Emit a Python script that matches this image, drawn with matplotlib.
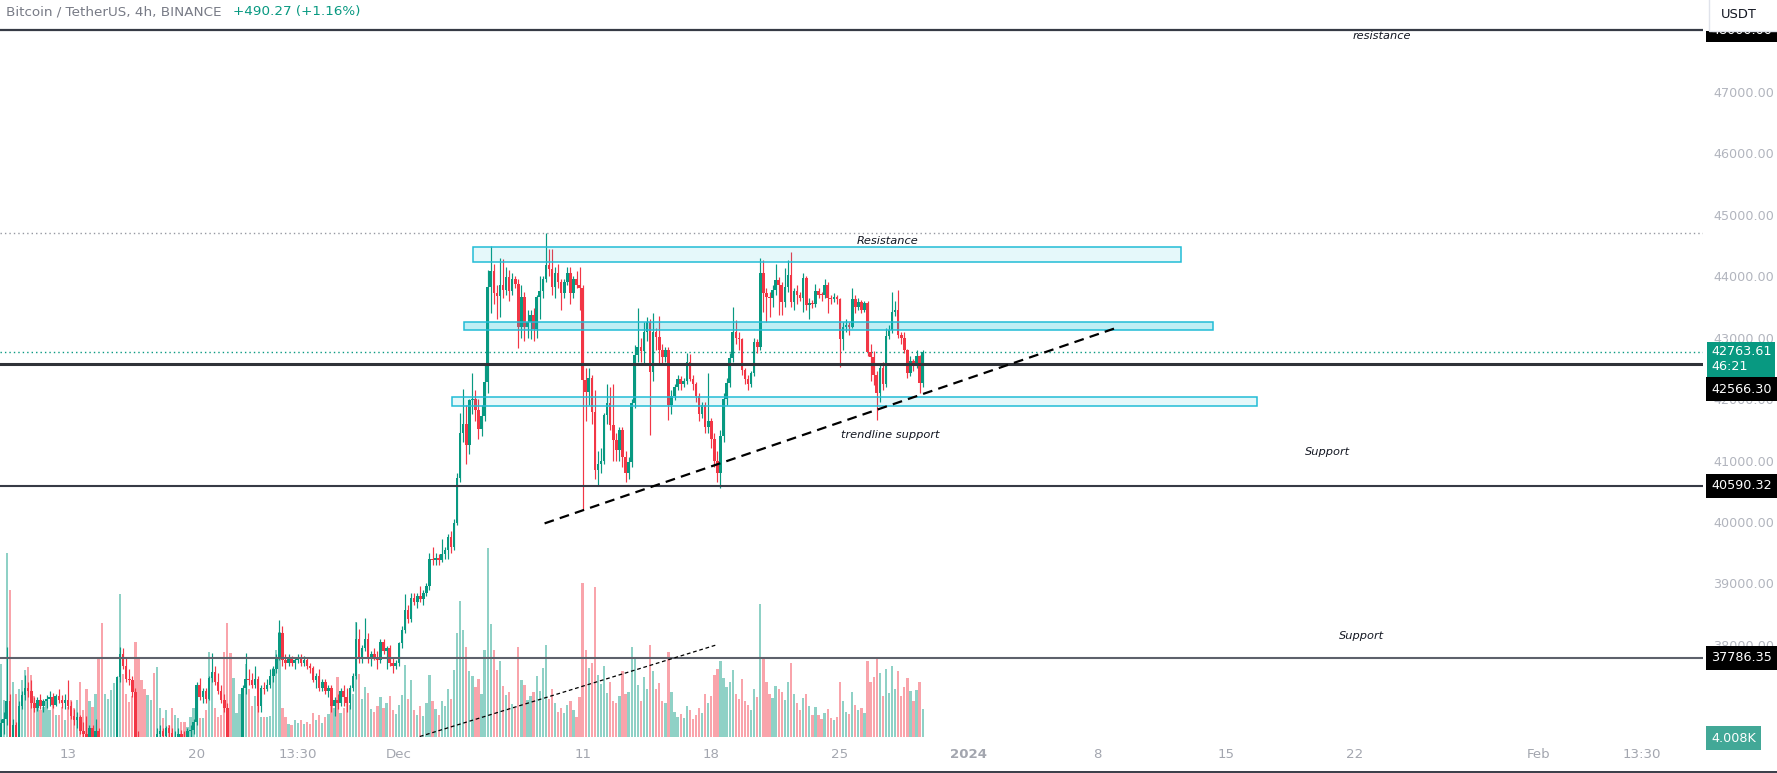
import numpy as np
import matplotlib
matplotlib.use("Agg")
import matplotlib.pyplot as plt
from matplotlib.patches import Rectangle
from matplotlib.transforms import Bbox, TransformedBbox

W, H = 1777, 773
GREEN = '#089981'
RED = '#f23645'

# BTC/USDT 4h candles, 9 Nov 2023 08:00 -> 29 Dec 2023 12:00 (one row per day)
first_open = 36300
closes = [
    36720, 36800, 37080, 36450,
    36700, 36480, 37000, 37180, 37300, 37250,
    37050, 36980, 37100, 37000, 37080, 37120,
    37150, 37020, 37160, 37100, 37050, 37100,
    37000, 36850, 36780, 36820, 36600, 36550,
    36500, 36650, 36450, 36600, 35600, 35550,
    35800, 36000, 36200, 36300, 37480, 37850,
    37650, 37450, 37420, 37230, 36400, 36200,
    36100, 35700, 36000, 36300, 36200, 36550,
    36600, 36520, 36640, 36560, 36450, 36500,
    36550, 36500, 36480, 36600, 36620, 36750,
    37340, 37150, 37250, 37120, 37460, 37560,
    37400, 37250, 37100, 36980, 36400, 35800,
    36100, 36300, 36400, 37300, 37450, 37420,
    37350, 37450, 37000, 37300, 37280, 37350,
    37500, 37600, 37800, 38200, 37750, 37700,
    37780, 37700, 37760, 37800, 37700, 37760,
    37650, 37620, 37430, 37500, 37300, 37400,
    37250, 37300, 37000, 37100, 37050, 37250,
    37150, 37050, 37300, 37500, 38100, 37800,
    37950, 38100, 37780, 37850, 37800, 37750,
    38050, 37900, 37950, 37700, 37650, 37700,
    38030, 38240, 38570, 38420, 38770, 38700,
    38800, 38750, 38850, 38950, 39400, 39380,
    39420, 39380, 39480, 39550, 39750, 39600,
    39980, 40720, 41440, 41590, 41250, 41980,
    42000, 41830, 41510, 41720, 42280, 43820,
    44080, 43730, 43680, 43850, 43780, 43990,
    43760, 43950, 43880, 43180, 43660, 43180,
    43260, 43370, 43140, 43660, 43760, 43960,
    44180, 44120, 43820, 44050, 43900, 43730,
    43900, 44050, 43730, 43950, 43850, 43800,
    42310, 42120, 42340, 41790, 40850, 40950,
    41000, 41740, 41930, 41580, 41330, 41170,
    41500, 41050, 40800, 40980, 41930, 42720,
    42850, 42780, 43090, 43260, 42440, 43090,
    43010, 42800, 42680, 42800, 41900, 42050,
    42200, 42330, 42250, 42300, 42600, 42330,
    42250, 42050, 41750, 41900, 41550, 41650,
    41350, 41000, 40800, 41400, 42000, 42270,
    42670, 43100, 43000, 42970, 42470, 42320,
    42250, 42420, 42930, 42850, 44050, 43730,
    43660, 43650, 43780, 43940, 43860, 43580,
    43830, 44020, 43580, 43760, 43700, 43650,
    43970, 43530, 43570, 43540, 43760, 43700,
    43690, 43860, 43650, 43630, 43660, 43630,
    42980, 43170, 43210, 43170, 43630, 43500,
    43580, 43450, 43570, 42770, 42680, 42390,
    42100, 42510, 42240, 43030, 43120, 43420,
    43450, 43050, 43000, 42800, 42430, 42620,
    42560, 42700, 42260, 42763.61,
]
highs = [
    36800, 36900, 37970, 37200,
    36800, 36750, 37080, 37250, 37510, 37400,
    37420, 37150, 37150, 37200, 37120, 37180,
    37250, 37220, 37200, 37280, 37180, 37200,
    37430, 37080, 36950, 36900, 36860, 36750,
    36850, 36700, 36700, 36800, 36650, 35800,
    35900, 36100, 36300, 36400, 37500, 37970,
    37950, 37800, 37600, 37500, 37300, 36600,
    36400, 36300, 36100, 36400, 36500, 36650,
    36700, 36650, 36680, 36700, 36650, 36600,
    36650, 36620, 36600, 36650, 36700, 36800,
    37400, 37460, 37300, 37300, 37500, 37870,
    37650, 37550, 37350, 37200, 37050, 36500,
    36200, 36400, 36450, 37350, 37870, 37600,
    37550, 37650, 37500, 37350, 37400, 37450,
    37600, 37650, 37850, 38400, 38300, 37850,
    37850, 37820, 37800, 37850, 37850, 37820,
    37800, 37700, 37650, 37550, 37600, 37450,
    37450, 37350, 37350, 37150, 37200, 37300,
    37350, 37300, 37350, 37550, 38370, 38250,
    38000, 38440, 38200, 37900, 37950, 37900,
    38100, 38100, 37980, 38000, 37800, 37750,
    38050, 38300, 38830, 38650, 38850, 38850,
    38850, 38950, 38900, 39000, 39500, 39600,
    39500, 39480, 39720, 39600, 39800, 39850,
    40050, 40800, 41770, 42170, 41900, 42000,
    42420, 42150, 42000, 41900, 42550, 44100,
    44490, 44200, 43850, 44290, 44280, 44150,
    44100, 44050, 44000, 43950, 43850, 43750,
    43450, 43450, 43480, 43700, 44000, 44000,
    44700, 44450, 44450, 44150, 44200, 43950,
    43950, 44150, 44150, 44000, 44080, 44150,
    43850, 42500, 42500, 42400, 42150, 41150,
    41200, 41780, 42240, 42200, 42240, 41450,
    41550, 41550, 41150, 41050, 42000, 42880,
    43480, 43000, 43250, 43340, 43300, 43400,
    43150, 43360, 42900, 42850, 42850, 42150,
    42250, 42400, 42380, 42350, 42750, 42730,
    42400, 42280, 42100, 41950, 41950, 42420,
    41700, 41450, 41150, 41500, 42100, 42350,
    42750, 43500, 43290, 43100, 43000, 42500,
    42400, 42450, 43000, 42980, 44300, 44260,
    43800, 43750, 43850, 44200, 43980, 43900,
    44130, 44260, 44390, 43800, 43850, 43750,
    44050, 44000, 43650, 43620, 43870, 43800,
    43750, 43950, 43900, 43700, 43720, 43700,
    43650, 43250, 43300, 43250, 43810, 43700,
    43650, 43620, 43600, 43600, 42900, 42780,
    42450, 42550, 42600, 43150, 43200, 43740,
    43600, 43780, 43100, 43100, 42820, 42700,
    42650, 42800, 42720, 42800,
]
lows = [
    36200, 36550, 36700, 36350,
    36400, 36350, 36450, 36950, 37100, 37150,
    36980, 36900, 36920, 36950, 36900, 36980,
    37000, 36980, 37000, 37060, 36980, 36950,
    36950, 36800, 36700, 36650, 36550, 36450,
    36400, 36350, 36400, 36300, 35300, 35400,
    35400, 35600, 35850, 36050, 36250, 37400,
    37600, 37400, 37350, 37150, 36300, 36150,
    35900, 35500, 35600, 35900, 36100, 36100,
    36400, 36450, 36450, 36500, 36350, 36300,
    36400, 36450, 36400, 36450, 36500, 36550,
    36700, 37100, 37050, 37050, 37100, 37400,
    37350, 37200, 37050, 36900, 36300, 35650,
    35700, 35900, 36150, 36350, 37200, 37350,
    37300, 37300, 36900, 36900, 37200, 37250,
    37300, 37400, 37550, 37750, 37650, 37600,
    37650, 37650, 37600, 37700, 37650, 37650,
    37600, 37550, 37400, 37300, 37250, 37250,
    37200, 37150, 36900, 36850, 36950, 37000,
    37000, 36900, 36950, 37250, 37450, 37700,
    37700, 37900, 37700, 37650, 37750, 37600,
    37700, 37850, 37600, 37650, 37550, 37600,
    37650, 37950, 38200, 38350, 38380, 38650,
    38600, 38700, 38650, 38800, 38900, 39300,
    39300, 39300, 39350, 39400, 39400, 39500,
    39550, 39950, 40650, 41300, 40950, 41100,
    41750, 41650, 41350, 41400, 41650, 42100,
    43400, 43550, 43300, 43340, 43650, 43700,
    43600, 43700, 43800, 42830, 43000, 42950,
    43000, 42980, 42950, 43000, 43300, 43650,
    43900, 44000, 43700, 43650, 43800, 43450,
    43650, 43850, 43550, 43650, 43800, 43450,
    40200, 41650, 41900, 41600, 40700, 40600,
    40800, 40950, 41600, 41500, 41000, 41000,
    41000, 40900, 40650, 40700, 40900, 41850,
    42600, 42600, 42550, 42950, 41410, 42300,
    42800, 42560, 42550, 42600, 41660, 41750,
    41980, 42150, 42150, 42200, 42250, 42300,
    42150, 41950, 41650, 41700, 41450, 41450,
    41200, 40900, 40650, 40550, 41300, 41900,
    42200, 42600, 42900, 42800, 42400, 42250,
    42150, 42200, 42380, 42750, 42800, 43420,
    43250, 43330, 43500, 43700, 43370, 43370,
    43500, 43750, 43500, 43450, 43550, 43600,
    43420, 43450, 43300, 43480, 43500, 43650,
    43600, 43650, 43400, 43550, 43580, 43550,
    42530, 42800, 43100, 43050, 43150, 43400,
    43450, 43400, 43420, 42700, 42300, 42230,
    41660, 41950, 42150, 42200, 42980, 43080,
    43350, 43000, 42900, 42750, 42350, 42380,
    42450, 42500, 42100, 42200,
]
volume_k = [
    10.5, 5.3, 26.3, 21.0,
    7.9, 6.2, 6.9, 8.1, 9.6, 10.0,
    8.9, 5.8, 4.3, 3.9, 4.3, 5.5,
    3.9, 5.3, 3.1, 3.1, 4.3, 2.4,
    4.3, 5.3, 4.1, 5.3, 7.8, 3.9,
    6.9, 5.1, 4.3, 6.1, 11.2, 16.3,
    6.1, 5.5, 6.7, 7.7, 8.6, 20.5,
    9.0, 6.2, 5.0, 5.8, 13.6, 11.5,
    8.2, 6.9, 6.0, 5.3, 9.2, 10.0,
    4.2, 2.7, 3.9, 1.7, 4.1, 3.2,
    2.7, 2.2, 2.2, 1.5, 2.9, 4.2,
    5.3, 2.7, 2.7, 3.9, 12.1, 9.1,
    4.1, 2.9, 3.1, 12.2, 16.3, 12.0,
    8.4, 3.5, 6.2, 3.9, 10.4, 6.9,
    4.4, 5.8, 5.3, 2.9, 2.9, 2.9,
    3.0, 9.8, 12.4, 15.0, 4.2, 2.8,
    1.9, 1.7, 2.4, 2.0, 2.5, 1.8,
    2.2, 1.9, 3.5, 2.4, 3.1, 2.0,
    2.8, 3.3, 5.6, 4.2, 8.6, 3.5,
    4.1, 5.2, 4.6, 6.1, 16.4, 9.0,
    5.5, 7.2, 6.3, 4.0, 3.6, 4.4,
    5.7, 4.2, 4.8, 5.9, 3.8, 3.3,
    4.6, 6.0, 10.3, 5.4, 8.1, 3.9,
    3.2, 4.5, 3.0, 4.8, 8.9, 5.1,
    4.0, 3.1, 5.2, 4.4, 6.8, 5.5,
    9.6, 14.8, 19.5, 15.3, 12.8, 9.4,
    8.7, 7.1, 8.3, 6.2, 12.5, 27.0,
    16.2, 12.4, 9.6, 10.8, 7.3, 6.0,
    6.4, 4.7, 4.1, 12.9, 8.2, 7.5,
    5.3, 5.9, 6.4, 8.7, 6.6, 9.8,
    13.1, 5.4, 6.9, 4.8, 3.6, 4.2,
    3.4, 4.6, 5.1, 3.9, 2.8, 5.7,
    22.0, 12.5, 9.8, 10.6, 21.5, 8.9,
    7.6, 10.2, 6.3, 7.9, 5.2, 4.8,
    5.9, 9.4, 6.1, 6.5, 12.8, 11.3,
    7.4, 5.2, 8.6, 6.9, 13.1, 9.5,
    6.8, 7.7, 5.2, 4.9, 12.2, 6.4,
    3.6, 2.9, 3.3, 2.7, 4.5, 3.9,
    2.6, 3.1, 4.2, 3.5, 6.1, 4.8,
    5.9, 8.8, 9.7, 10.9, 8.4, 7.1,
    7.9, 9.6, 6.2, 5.5, 8.3, 5.1,
    4.6, 3.9, 6.8, 5.7, 19.0, 11.4,
    7.8, 6.1, 5.6, 7.3, 6.9, 6.4,
    5.3, 7.9, 10.6, 6.1, 4.9, 3.8,
    5.6, 6.2, 4.4, 3.1, 4.3, 3.2,
    2.6, 3.4, 4.0, 2.7, 2.5, 2.9,
    7.8, 5.1, 3.6, 3.3, 6.4, 4.6,
    3.9, 4.2, 3.5, 10.8, 7.9, 8.6,
    11.4, 9.2, 5.8, 9.7, 6.3, 10.1,
    6.8, 9.5, 5.9, 7.2, 8.4, 6.6,
    5.1, 6.7, 7.9, 4.008,
]

# x axis in days since 9 Nov 2023 00:00
last_candle_day = 50.5
tick_days = [4, 11, 16.53, 22, 32, 39, 46, 53, 60, 67, 74, 84, 89.64]
tick_labels = ['13', '20', '13:30', 'Dec', '11', '18', '25', '2024', '8', '15', '22', 'Feb', '13:30']
price_ticks = [38000, 39000, 40000, 41000, 42000, 43000, 44000, 45000, 46000, 47000]

# drawings
levels = [48000.00, 42566.30, 40590.32, 37786.35]
last_price = 42763.61
zones = [  # day start, day end, low, high, fill alpha
    (26.04, 64.57, 44226, 44470, 0.10),
    (25.55, 66.29, 43130, 43250, 0.25),
    (24.87, 68.71, 41892, 42029, 0.10),
]
trendline = [(29.93, 61.11), (39977, 43167)]
vol_trendline = [(23.14, 39.31), (36508, 38002)]
notes = [
    ('Resistance', 48.61, 44573),
    ('trendline support', 48.76, 41415),
    ('Support', 72.5, 41139),
    ('resistance', 75.5, 47910),
    ('Support', 74.4, 38143),
]

o = np.array([first_open] + closes[:-1], dtype=float)
c = np.array(closes, dtype=float)
hi = np.array(highs, dtype=float)
lo = np.array(lows, dtype=float)
n = len(c)
t = last_candle_day - (n - 1 - np.arange(n)) / 6.0
up = c >= o
cols = np.where(up, GREEN, RED)

plt.rcParams['font.family'] = ['DejaVu Sans']
fig = plt.figure(figsize=(W / 100, H / 100), dpi=100, facecolor='white')
ax = fig.add_axes([0, 36 / H, 1703 / W, 737 / H])
axv = ax.twinx()

# volume pane
axv.bar(t, volume_k, width=0.125, color=cols, alpha=0.45, linewidth=0)
axv.set_ylim(0, 105.3)
axv.set_axis_off()
ax.set_zorder(axv.get_zorder() + 1)
ax.patch.set_visible(False)

# candles
ax.vlines(t, lo, hi, colors=cols, linewidth=0.85, zorder=3)
ax.bar(t, np.maximum(np.abs(c - o), 16), bottom=np.minimum(o, c), width=0.14,
       color=cols, linewidth=0, zorder=3.1)

# horizontal levels
ax.axhline(levels[0], color='#363a45', lw=1.6, zorder=4)
ax.axhline(levels[1], color='#2f3238', lw=2.2, zorder=4)
ax.axhline(levels[2], color='#363a45', lw=1.5, zorder=4)
ax.axhline(levels[3], color='#5d616b', lw=1.5, zorder=4)
ax.axhline(max(highs), color='#9598a1', lw=1.0, ls=(0, (1, 2.2)), zorder=2)
ax.axhline(last_price, color=GREEN, lw=1.0, ls=(0, (1, 2.2)), zorder=2)

for d0, d1, p0, p1, a in zones:
    ax.add_patch(Rectangle((d0, p0), d1 - d0, p1 - p0, facecolor=(0, 0.737, 0.831, a),
                           edgecolor='#22bcd6', lw=1.1, zorder=4))

ax.plot(trendline[0], trendline[1], color='black', lw=1.6, dashes=(4.4, 2.8), zorder=5)
ax.plot(vol_trendline[0], vol_trendline[1], color='black', lw=0.9, dashes=(3, 2.2), zorder=5)

for s, d, p in notes:
    ax.text(d, p, s, ha='center', va='center', fontsize=8.2, style='italic',
            color='#131722', zorder=6)

ax.set_xlim(0.3003, 92.955)
ax.set_ylim(36500.2, 48495.6)
ax.set_xticks(tick_days, tick_labels)
ax.yaxis.tick_right()
ax.set_yticks(price_ticks, ['%.2f' % p for p in price_ticks])
ax.tick_params(axis='x', length=0, pad=8, labelsize=9.6, labelcolor='#a3a6af')
ax.tick_params(axis='y', length=0, pad=7.2, labelsize=9.2, labelcolor='#b2b5be')
for lbl in ax.get_xticklabels():
    if lbl.get_text() == '2024':
        lbl.set_fontweight('bold')
for s in ax.spines.values():
    s.set_visible(False)
for s in axv.spines.values():
    s.set_visible(False)


def tag(y, text, fc, dy_px=0.0, pad=0.42, tc='white', yc='data', axis=ax):
    return axis.annotate(text, xy=(1, y), xycoords=('axes fraction', yc),
                         xytext=(8 * 0.72, dy_px * 0.72), textcoords='offset points',
                         ha='left', va='center', fontsize=9.2, color=tc, linespacing=1.15,
                         bbox=dict(boxstyle='square,pad=%.2f' % pad, fc=fc, ec='none'),
                         annotation_clip=False, zorder=8)


# the 48000 tag sits under the currency button: only its lower strip shows
top_tag = tag(levels[0], '%.2f' % levels[0], 'black')
top_tag.set_clip_box(TransformedBbox(Bbox([[1700 / W, 0], [1, 1 - 31 / H]]), fig.transFigure))
top_tag.set_clip_on(True)

tag(last_price, '%.2f\n46:21' % last_price, GREEN, dy_px=-7, pad=0.3)
tag(levels[1], '%.2f' % levels[1], 'black', dy_px=-25)
tag(levels[2], '%.2f' % levels[2], 'black')
tag(levels[3], '%.2f' % levels[3], 'black')
tag(0, '%.3fK' % volume_k[-1], '#42a897', dy_px=-1, yc='axes fraction', axis=axv)

# currency button, top right
ax.add_patch(Rectangle((1709 / W, 1 - 31 / H), 90 / W, 40 / H, transform=fig.transFigure,
                       fc='white', ec='#e0e3eb', lw=1, zorder=9, clip_on=False))
ax.text(1721 / W, 1 - 15 / H, 'USDT', transform=fig.transFigure, fontsize=9.4,
        color='#131722', va='center', zorder=10, clip_on=False)

# symbol legend
title = fig.text(6 / W, 1 - 12 / H, 'Bitcoin / TetherUS, 4h, BINANCE', fontsize=9.7,
                 color='#787b86', va='center')
ax.annotate('+490.27 (+1.16%)', xy=(1, 0.5), xycoords=title, xytext=(8, 0),
            textcoords='offset points', ha='left', va='center', fontsize=9.7,
            color=GREEN, annotation_clip=False)

fig.add_artist(Rectangle((0, 0), 1, 2.5 / H, transform=fig.transFigure,
                         fc='#3d414c', ec='none', zorder=20))

fig.savefig('out.png', dpi=100, facecolor='white')
